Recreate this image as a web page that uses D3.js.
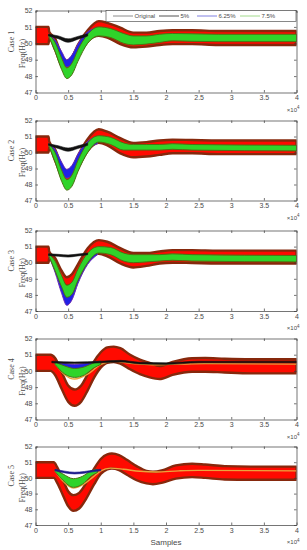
<!DOCTYPE html>
<html><head><meta charset="utf-8">
<script src="https://cdn.jsdelivr.net/npm/d3@7"></script>
<style>body{margin:0;background:#fff}svg{display:block}</style>
</head><body>
<script>
// ---------- data (x in units of 10^4 samples, values in Hz) ----------
const xTicks = [0, 0.5, 1, 1.5, 2, 2.5, 3, 3.5, 4];
const yTicks = [47, 48, 49, 50, 51, 52];
const caseLabels = ["Case 1", "Case 2", "Case 3", "Case 4", "Case 5"];
const legendLabels = ["Original", "5%", "6.25%", "7.5%"];

// envelopes: [x, lower, upper]
const c1Original = [[0,49.95,51.0],[0.2,49.95,51.0],[0.21,50.3,50.7],[0.3,49.6,50.3],[0.4,48.6,49.3],[0.48,48.25,48.9],[0.55,48.4,49.1],[0.65,49.2,49.9],[0.8,50.1,50.8],[0.97,50.45,51.35],[1.1,50.35,51.25],[1.3,49.95,50.95],[1.5,49.75,50.65],[1.7,49.8,50.65],[1.9,49.9,50.75],[2.1,49.95,50.8],[2.4,49.95,50.8],[2.8,49.9,50.75],[4,49.9,50.75]];
const c1Five = [[0.2,50.45,50.55],[0.35,50.28,50.45],[0.5,50.06,50.27],[0.65,50.25,50.42],[0.8,50.45,50.58]];
const c1SixQ = [[0.2,50.45,50.55],[0.3,49.7,50.2],[0.4,48.9,49.5],[0.48,48.55,49.0],[0.56,48.75,49.3],[0.65,49.4,49.95],[0.8,50.2,50.7],[0.95,50.45,50.95]];
const c1SevenH = [[0.2,50.45,50.55],[0.3,49.5,50.05],[0.4,48.4,49.1],[0.48,47.85,48.5],[0.56,48.1,48.8],[0.65,48.9,49.6],[0.8,50.0,50.55],[0.97,50.45,51.0],[1.15,50.35,50.9],[1.35,50.0,50.6],[1.5,49.9,50.45],[1.7,49.95,50.45],[1.9,50.05,50.55],[2.1,50.15,50.6],[2.4,50.12,50.58],[2.8,50.1,50.55],[4,50.1,50.55]];

const c2Original = [[0,50.0,51.0],[0.2,50.0,51.0],[0.21,50.3,50.7],[0.3,49.5,50.2],[0.4,48.5,49.2],[0.48,48.1,48.8],[0.56,48.3,49.0],[0.65,49.0,49.8],[0.8,50.1,50.85],[0.97,50.6,51.45],[1.1,50.45,51.3],[1.3,49.95,50.9],[1.5,49.7,50.6],[1.7,49.75,50.65],[1.9,49.85,50.75],[2.1,49.95,50.8],[2.4,49.95,50.78],[2.8,49.9,50.75],[4,49.9,50.75]];
const c2Five = [[0.2,50.45,50.55],[0.35,50.25,50.42],[0.5,50.08,50.28],[0.65,50.25,50.42],[0.8,50.45,50.58]];
const c2SixQ = [[0.2,50.45,50.55],[0.3,49.6,50.2],[0.4,48.8,49.4],[0.48,48.4,48.95],[0.56,48.6,49.2],[0.65,49.3,49.9],[0.8,50.2,50.7],[0.95,50.55,51.0]];
const c2SevenH = [[0.2,50.45,50.55],[0.3,49.4,50.0],[0.4,48.2,48.9],[0.48,47.65,48.3],[0.56,47.9,48.6],[0.65,48.8,49.5],[0.8,50.0,50.6],[0.97,50.65,51.05],[1.15,50.5,50.95],[1.35,50.15,50.6],[1.5,50.15,50.5],[1.7,50.15,50.5],[1.9,50.15,50.5],[2.1,50.2,50.55],[2.4,50.15,50.5],[4,50.1,50.45]];

const c3Original = [[0,50.0,51.0],[0.2,50.0,51.0],[0.21,50.3,50.7],[0.3,49.7,50.3],[0.4,48.9,49.5],[0.48,48.55,49.1],[0.56,48.7,49.3],[0.65,49.3,49.9],[0.8,50.2,50.9],[0.97,50.55,51.4],[1.1,50.4,51.3],[1.3,49.95,50.9],[1.5,49.7,50.6],[1.7,49.8,50.6],[1.9,49.95,50.7],[2.1,50.0,50.78],[2.4,49.98,50.78],[2.8,49.95,50.75],[4,49.95,50.75]];
const c3Five = [[0.2,50.45,50.55],[0.35,50.4,50.52],[0.5,50.35,50.48],[0.65,50.42,50.54],[0.8,50.5,50.6]];
const c3SixQ = [[0.2,50.45,50.55],[0.3,49.4,50.0],[0.4,48.1,48.8],[0.48,47.35,48.1],[0.56,47.7,48.4],[0.65,48.7,49.4],[0.8,49.9,50.5],[0.95,50.5,50.95]];
const c3SevenH = [[0.2,50.45,50.55],[0.3,49.5,50.1],[0.4,48.5,49.2],[0.48,47.85,48.6],[0.56,48.05,48.8],[0.65,48.9,49.6],[0.8,50.0,50.6],[0.97,50.6,51.0],[1.15,50.5,50.95],[1.35,50.1,50.6],[1.5,50.0,50.5],[1.7,50.05,50.5],[1.9,50.1,50.5],[2.1,50.15,50.55],[2.4,50.1,50.5],[4,50.05,50.45]];

const c4Original = [[0,50.0,51.0],[0.23,50.0,51.0],[0.3,49.75,50.8],[0.4,48.9,49.95],[0.5,48.1,49.1],[0.6,47.85,48.85],[0.7,48.1,49.1],[0.8,48.8,49.8],[0.9,49.6,50.6],[1.0,50.2,51.15],[1.1,50.5,51.45],[1.2,50.55,51.5],[1.3,50.45,51.4],[1.45,50.1,51.0],[1.6,49.8,50.7],[1.75,49.6,50.5],[1.9,49.5,50.3],[2.1,49.75,50.55],[2.4,49.95,50.78],[2.6,49.95,50.8],[2.9,49.9,50.75],[3.3,49.85,50.72],[4,49.85,50.72]];
const c4Five = [[0.25,50.5,50.6],[0.6,50.45,50.55],[1.0,50.5,50.6],[1.3,50.55,50.65],[1.6,50.43,50.53],[2.0,50.4,50.5],[2.5,50.5,50.6],[4,50.5,50.6]];
const c4SixQ = [[0.3,50.45,50.55],[0.45,50.15,50.45],[0.6,50.05,50.4],[0.75,50.15,50.45],[0.9,50.35,50.55],[1.0,50.45,50.6]];
const c4SevenH = [[0.3,50.4,50.55],[0.45,49.8,50.3],[0.6,49.6,50.15],[0.75,49.75,50.25],[0.9,50.2,50.5],[1.0,50.4,50.6]];
const c4Mean = [[0.3,50.45],[0.45,49.75],[0.6,49.5],[0.8,49.8],[1.0,50.4],[1.2,50.6],[1.5,50.45],[1.8,50.38],[2.2,50.42],[2.6,50.45],[4,50.42]];

const c5Original = [[0,50.0,51.0],[0.28,50.0,51.0],[0.33,49.7,50.7],[0.42,48.9,49.9],[0.5,48.2,49.15],[0.58,47.9,48.9],[0.67,48.05,49.05],[0.78,48.7,49.7],[0.9,49.6,50.6],[1.0,50.25,51.2],[1.1,50.55,51.5],[1.17,50.6,51.55],[1.28,50.5,51.45],[1.4,50.2,51.15],[1.55,49.85,50.75],[1.7,49.65,50.45],[1.8,49.6,50.4],[1.95,49.7,50.5],[2.15,49.95,50.8],[2.4,50.05,50.9],[2.6,50.0,50.85],[2.9,49.9,50.75],[3.3,49.88,50.72],[4,49.88,50.72]];
const c5Five = [[0.3,50.45,50.55],[0.45,50.32,50.43],[0.6,50.25,50.36],[0.75,50.3,50.41],[0.9,50.4,50.5],[1.0,50.45,50.55]];
const c5SevenH = [[0.3,50.4,50.55],[0.42,49.85,50.25],[0.58,49.4,49.95],[0.72,49.6,50.1],[0.85,50.1,50.45],[0.95,50.35,50.55]];
const c5Mean = [[0.3,50.45],[0.42,49.8],[0.58,49.35],[0.72,49.55],[0.88,50.05],[1.0,50.45],[1.15,50.62],[1.35,50.55],[1.6,50.42],[1.85,50.38],[2.2,50.45],[2.5,50.48],[4,50.45]];

const cases = [
  {orig: c1Original, five: c1Five, six: c1SixQ, seven: c1SevenH, mean: null},
  {orig: c2Original, five: c2Five, six: c2SixQ, seven: c2SevenH, mean: null},
  {orig: c3Original, five: c3Five, six: c3SixQ, seven: c3SevenH, mean: null},
  {orig: c4Original, five: c4Five, six: c4SixQ, seven: c4SevenH, mean: c4Mean},
  {orig: c5Original, five: c5Five, six: null, seven: c5SevenH, mean: c5Mean}
];

// ---------- layout ----------
const W = 307, H = 550;
const L = 35.5, R = 296.5;
const tops = [10.5, 120.5, 230.5, 338.5, 446.5];
const bots = [92.5, 200.5, 311, 419.5, 525];
const axisColor = "#3a3a3a", textColor = "#4a4a4a";
const sans = "'Liberation Sans', Arial, sans-serif";
const serif = "'Liberation Serif', 'Times New Roman', serif";

const svg = d3.select("body").append("svg").attr("width", W).attr("height", H);
const x = d3.scaleLinear().domain([0, 4]).range([L, R]);

cases.forEach((c, i) => {
  const y = d3.scaleLinear().domain([47, 52]).range([bots[i], tops[i]]);
  const g = svg.append("g");
  const clipId = "clip" + i;
  svg.append("clipPath").attr("id", clipId).append("rect")
    .attr("x", L).attr("y", tops[i]).attr("width", R - L).attr("height", bots[i] - tops[i]);
  const plot = g.append("g").attr("clip-path", `url(#${clipId})`);

  const area = d3.area().x(d => x(d[0])).y0(d => y(d[1])).y1(d => y(d[2])).curve(d3.curveMonotoneX);
  const line = d3.line().x(d => x(d[0])).y(d => y(d[1])).curve(d3.curveMonotoneX);

  plot.append("path").datum(c.orig).attr("d", area)
    .attr("fill", "#ff0a00").attr("stroke", "#86280c").attr("stroke-width", 2.4).attr("stroke-linejoin", "round");
  if (c.six) plot.append("path").datum(c.six).attr("d", area)
    .attr("fill", "#2020e6").attr("stroke", "#6a2ab4").attr("stroke-width", 1);
  if (c.mean) plot.append("path").datum(c.mean).attr("d", line)
    .attr("fill", "none").attr("stroke", "#eaa43c").attr("stroke-width", 1.4);
  plot.append("path").datum(c.seven).attr("d", area)
    .attr("fill", "#2fd42a").attr("stroke", "#4d7012").attr("stroke-width", 1);
  const fiveColor = i === 4 ? "#1a1a8a" : "#111";
  plot.append("path").datum(c.five).attr("d", area)
    .attr("fill", fiveColor).attr("stroke", fiveColor).attr("stroke-width", 0.6);

  // axes (ticks inside, box on)
  const fmtX = d => d3.format("")(d);
  const ax = [
    d3.axisBottom(x).tickValues(xTicks).tickFormat(fmtX).tickSizeInner(-2.5).tickSizeOuter(0).tickPadding(3),
    d3.axisTop(x).tickValues(xTicks).tickFormat("").tickSizeInner(-2.5).tickSizeOuter(0),
    d3.axisLeft(y).tickValues(yTicks).tickFormat(d3.format("d")).tickSizeInner(-2.5).tickSizeOuter(0).tickPadding(3),
    d3.axisRight(y).tickValues(yTicks).tickFormat("").tickSizeInner(-2.5).tickSizeOuter(0)
  ];
  const pos = [[0, bots[i]], [0, tops[i]], [L, 0], [R, 0]];
  ax.forEach((a, k) => {
    const ag = g.append("g").attr("transform", `translate(${pos[k][0]},${pos[k][1]})`).call(a);
    ag.select(".domain").attr("stroke", axisColor).attr("stroke-width", 0.7);
    ag.selectAll(".tick line").attr("stroke", axisColor).attr("stroke-width", 0.7);
    ag.selectAll("text").attr("fill", textColor).style("font-family", sans).style("font-size", "7px");
  });

  // exponent label
  const ex = g.append("text").attr("x", R + 3).attr("y", bots[i] + 19).attr("text-anchor", "end")
    .attr("fill", textColor).style("font-family", sans).style("font-size", "6px");
  ex.append("tspan").text("×10");
  ex.append("tspan").attr("dy", -2.5).style("font-size", "4.5px").text("4");

  // y labels
  const cy = (tops[i] + bots[i]) / 2;
  g.append("text").attr("transform", `translate(13.5,${cy - 10}) rotate(-90)`).attr("text-anchor", "middle")
    .attr("fill", textColor).style("font-family", serif).style("font-size", "8px").text(caseLabels[i]);
  g.append("text").attr("transform", `translate(24.5,${cy + 2}) rotate(-90)`).attr("text-anchor", "middle")
    .attr("fill", textColor).style("font-family", serif).style("font-size", "8px").text("Freq(Hz)");
});

// x axis title
svg.append("text").attr("x", 166).attr("y", 545).attr("text-anchor", "middle")
  .attr("fill", textColor).style("font-family", sans).style("font-size", "8px").text("Samples");

// legend
const legColors = ["#6e6e6e", "#262626", "#6060d8", "#8cd070"];
const lg = svg.append("g");
lg.append("rect").attr("x", 106).attr("y", 10.5).attr("width", 190).attr("height", 11)
  .attr("fill", "#fff").attr("stroke", axisColor).attr("stroke-width", 0.6);
const legX = [113, 159, 197, 240];
legendLabels.forEach((t, k) => {
  lg.append("line").attr("x1", legX[k]).attr("x2", legX[k] + 20).attr("y1", 16).attr("y2", 16)
    .attr("stroke", legColors[k]).attr("stroke-width", 0.8);
  lg.append("text").attr("x", legX[k] + 21.5).attr("y", 18.2).attr("fill", textColor)
    .style("font-family", sans).style("font-size", "6px").text(t);
});
</script>
</body></html>
